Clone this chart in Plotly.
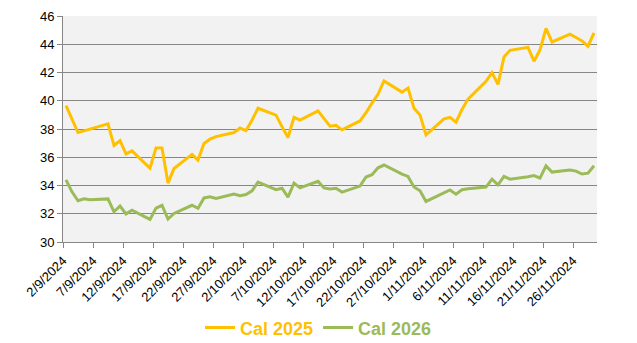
import pandas as pd
import plotly.graph_objects as go

# Trading days (Mon-Fri) from 2 Sep to 29 Nov 2024
dates = pd.bdate_range("2024-09-02", "2024-11-29")

cal_2025 = [
    39.65, 38.70, 37.75, 37.87, 37.99,
    38.36, 36.83, 37.17, 36.24, 36.45,
    35.23, 36.66, 36.66, 34.17, 35.20,
    36.20, 35.80, 36.97, 37.28, 37.46,
    37.75, 38.07, 37.89, 38.62, 39.47,
    38.98, 38.17, 37.40, 38.83, 38.63,
    39.28, 38.70, 38.20, 38.26, 37.94,
    38.57, 39.15, 39.83, 40.46, 41.40,
    40.61, 40.90, 39.47, 39.00, 37.58,
    38.72, 38.82, 38.48, 39.38, 40.12,
    41.37, 41.99, 41.16, 43.10, 43.57,
    43.78, 42.80, 43.60, 45.13, 44.16,
    44.72, 44.48, 44.24, 43.86, 44.80,
]

cal_2026 = [
    34.40, 33.55, 32.92, 33.06, 32.99,
    33.05, 32.14, 32.55, 31.99, 32.25,
    31.60, 32.40, 32.60, 31.63, 32.02,
    32.60, 32.38, 33.12, 33.20, 33.08,
    33.39, 33.28, 33.36, 33.62, 34.24,
    33.70, 33.81, 33.18, 34.17, 33.83,
    34.30, 33.83, 33.76, 33.80, 33.53,
    33.96, 34.60, 34.76, 35.25, 35.45,
    34.80, 34.64, 33.90, 33.62, 32.87,
    33.46, 33.68, 33.39, 33.70, 33.77,
    33.89, 34.45, 34.05, 34.64, 34.45,
    34.62, 34.70, 34.52, 35.39, 34.95,
    35.10, 35.02, 34.81, 34.87, 35.40,
]

series_names = ["Cal 2025", "Cal 2026"]
series_colors = ["#FFC000", "#9BBB59"]

# Date ticks every 5 days; each day occupies one slot, ticks sit at slot edges
tick_days = pd.date_range("2024-09-02", "2024-11-26", freq="5D")
half_day = pd.Timedelta(hours=12)
tick_vals = [d - half_day for d in tick_days]
tick_text = [f"{d.day}/{d.month}/{d.year}" for d in tick_days]

fig = go.Figure()
for name, vals, col in zip(series_names, [cal_2025, cal_2026], series_colors):
    fig.add_trace(go.Scatter(
        x=dates, y=vals, mode="lines",
        name=f"<b><span style='color:{col}'>{name}</span></b>",
        line=dict(color=col, width=3),
    ))

fig.update_layout(
    width=637, height=343,
    margin=dict(l=63, r=40, t=16, b=101),
    paper_bgcolor="white",
    plot_bgcolor="#F2F2F2",
    font=dict(family="Liberation Sans, Arial, sans-serif", size=13, color="#000000"),
    showlegend=True,
    legend=dict(
        orientation="h", xref="container", x=0.5, xanchor="center",
        yref="container", y=0.044, yanchor="middle",
        font=dict(size=18), itemwidth=30, tracegroupgap=0,
    ),
)

fig.update_xaxes(
    type="date", automargin=False,
    range=[dates[0] - half_day, dates[-1] + half_day],
    tickmode="array", tickvals=tick_vals, ticktext=tick_text,
    tickangle=-45, ticks="outside", ticklen=5, tickcolor="#868686",
    showline=True, linecolor="#868686", linewidth=1,
    showgrid=False, zeroline=False,
    tickfont=dict(size=13),
)
fig.update_yaxes(
    automargin=False,
    range=[30, 46], dtick=2,
    ticks="outside", ticklen=5, tickcolor="#868686",
    showline=True, linecolor="#868686", linewidth=1,
    showgrid=True, gridcolor="#868686", gridwidth=1,
    zeroline=False,
    tickfont=dict(size=13),
)

fig.write_html("out.html")
